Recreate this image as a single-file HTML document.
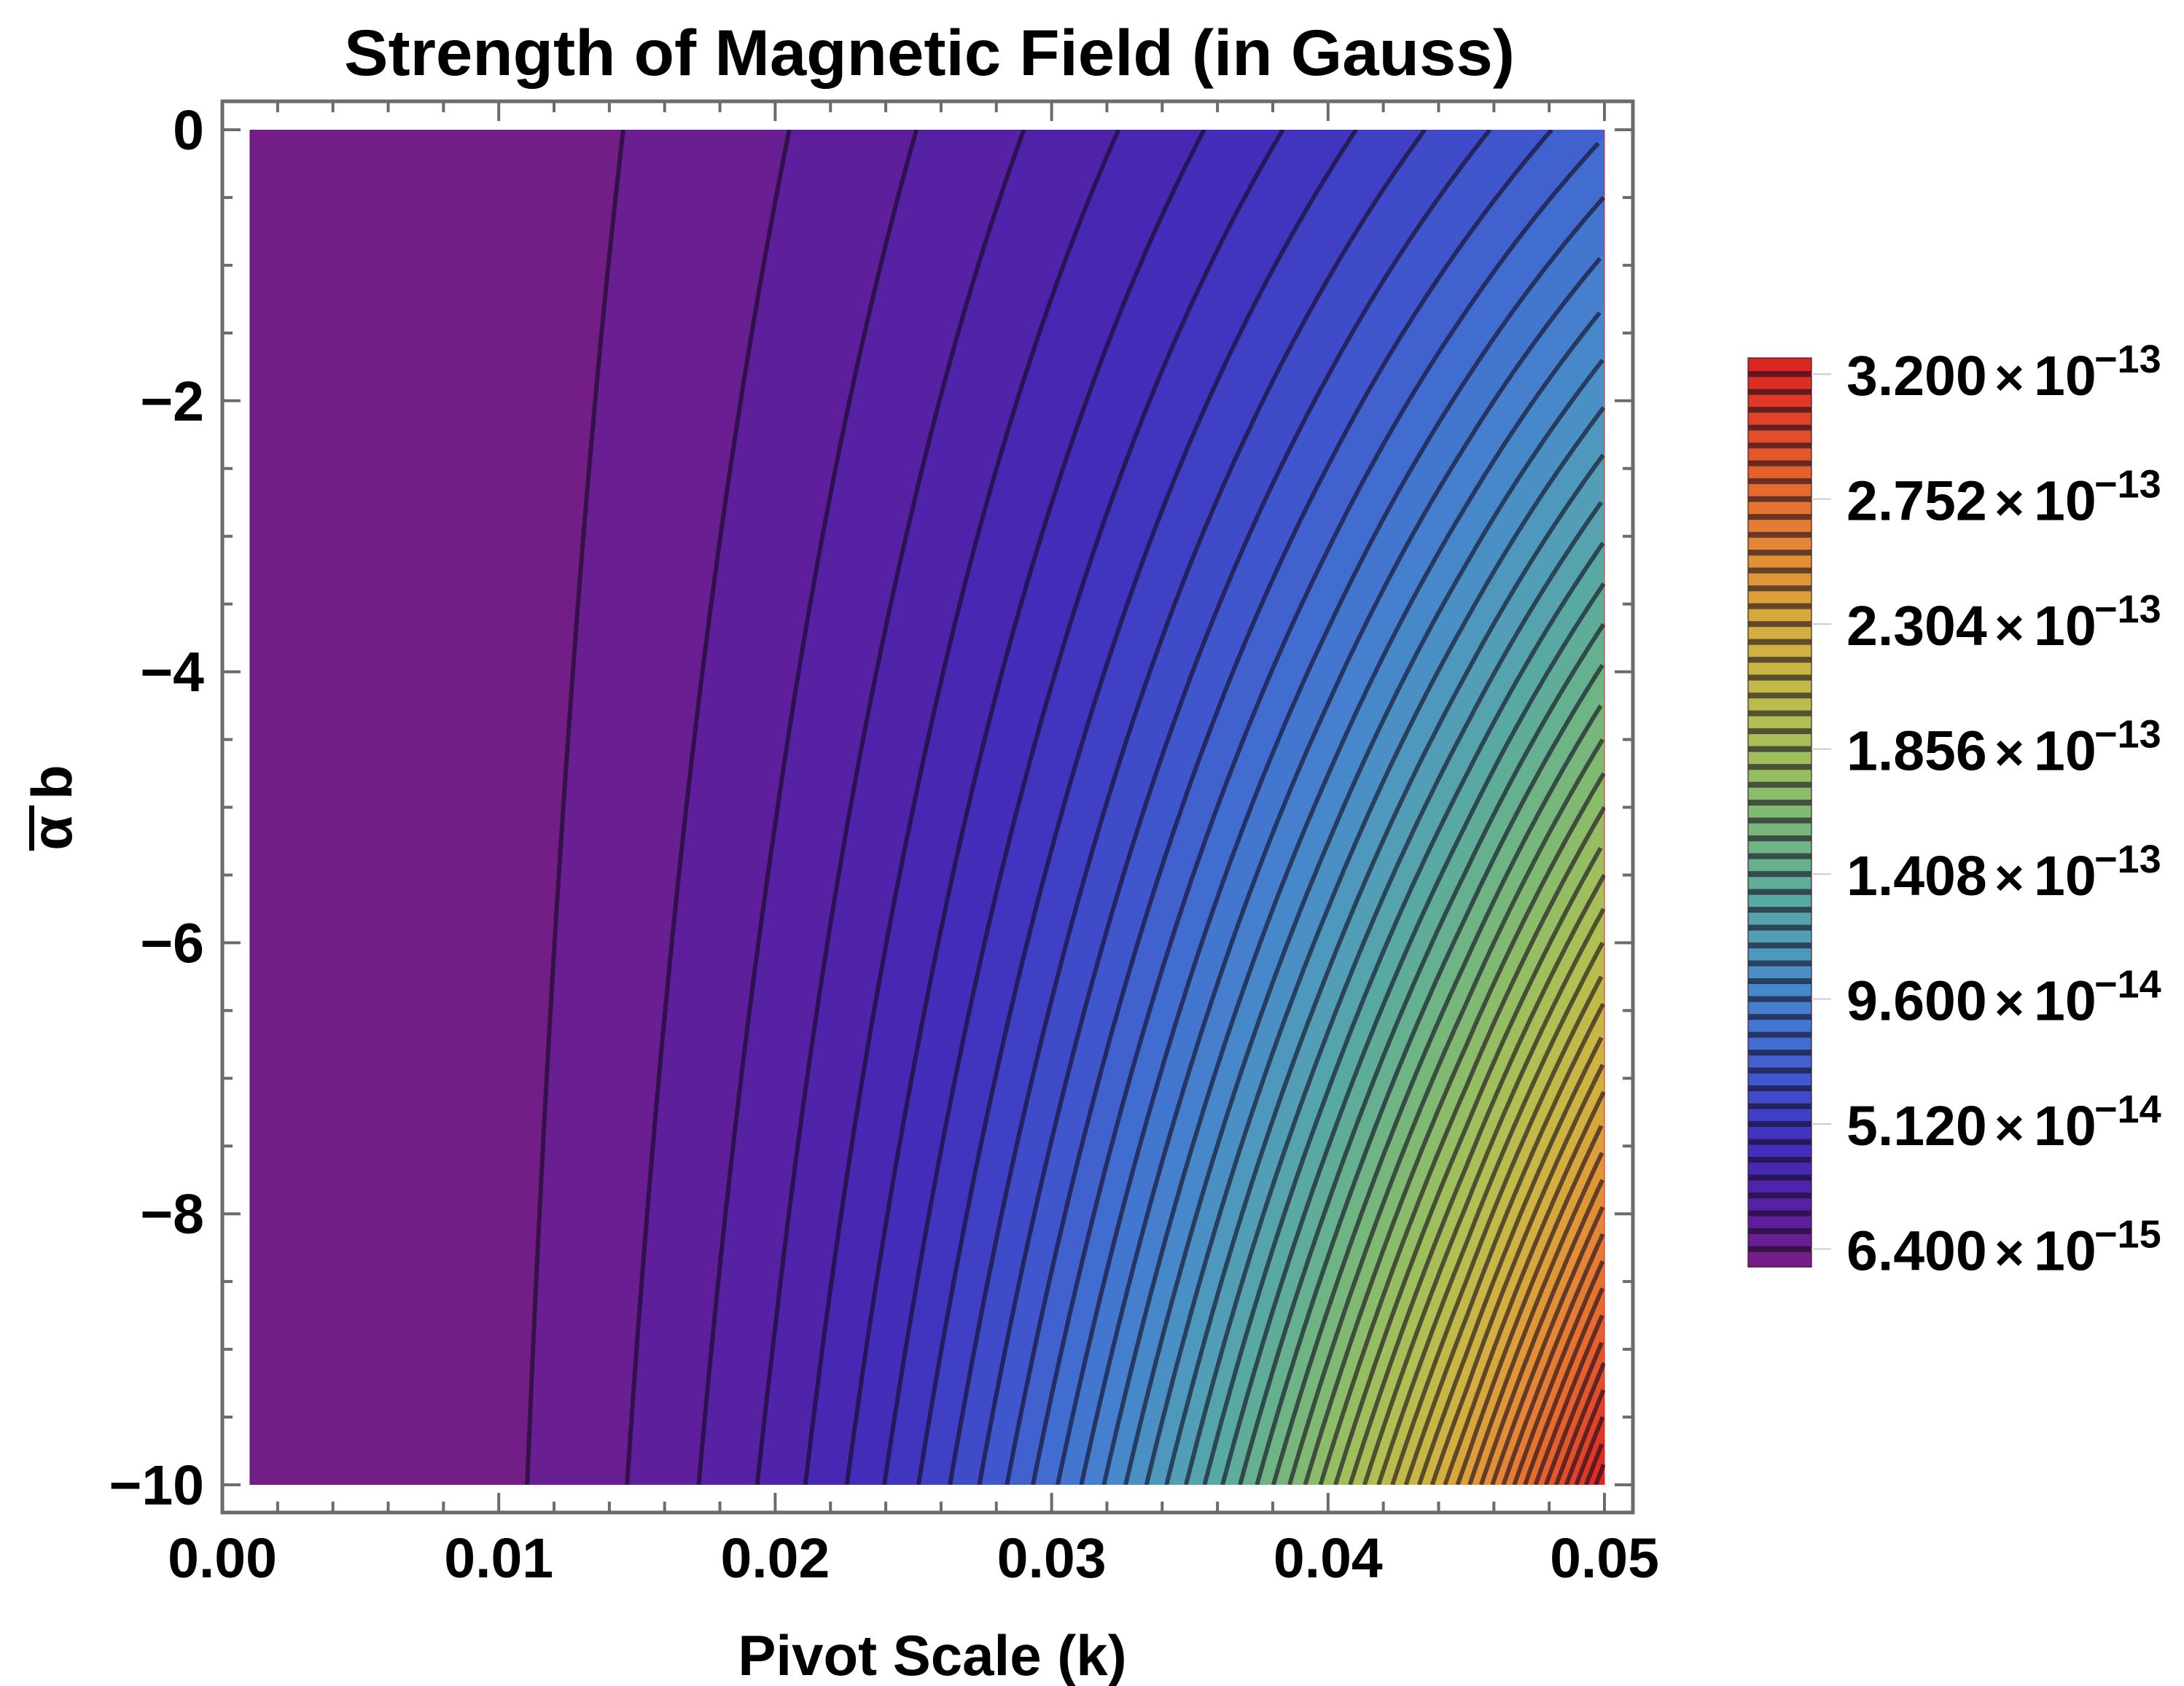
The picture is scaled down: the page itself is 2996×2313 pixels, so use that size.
<!DOCTYPE html>
<html>
<head>
<meta charset="utf-8">
<style>
html,body{margin:0;padding:0;background:#fff;}
svg{display:block;}
text{font-family:"Liberation Sans",Arial,sans-serif;font-weight:bold;fill:#000;}
</style>
</head>
<body>
<svg id="chart" width="2996" height="2313" viewBox="0 0 2996 2313" xmlns="http://www.w3.org/2000/svg">
  <defs>
    <clipPath id="plotClip"><rect x="342" y="178" width="1860" height="1859"/></clipPath>
  </defs>
  <text x="1275" y="103" font-size="89" text-anchor="middle" textLength="1606" lengthAdjust="spacingAndGlyphs">Strength of Magnetic Field (in Gauss)</text>
  <g id="plot" clip-path="url(#plotClip)"></g>
  <g id="axes"></g>
  <g id="cbar"></g>
  <text x="1279" y="2298" font-size="78" text-anchor="middle">Pivot Scale (k)</text>
  <g>
    <text transform="translate(98,1108) rotate(-90)" font-size="78" text-anchor="middle">α b</text>
    <rect x="40" y="1105" width="7" height="62" fill="#000"/>
  </g>
</svg>
<script>
// ---- data (field in units of 1e-15 Gauss) ----
const rowAlphaB = [0, -5, -10];
const kGrid = [0.001, 0.0125, 0.02, 0.025, 0.03, 0.035, 0.04, 0.045, 0.05];
const fieldTop = [0.0305, 4.755, 12.17, 19.03, 27.40, 37.29, 48.70, 61.63, 76.10];
const fieldMid = [0.0256, 6.59, 19.0, 32.0, 49.5, 71.8, 99.0, 132.2, 172.8];
const fieldBottom = [0.0205, 8.64, 27.8, 50.2, 81.6, 122.9, 176.0, 241.3, 325.8];
const levelStep = 6.4;      // contour spacing (1e-15 G)
const levelCount = 50;
const fieldMin = 0;
const fieldMax = 325.8;
const xTicks = [0, 0.01, 0.02, 0.03, 0.04, 0.05];
const xTickLabels = ["0.00", "0.01", "0.02", "0.03", "0.04", "0.05"];
const yTicks = [0, -2, -4, -6, -8, -10];
const yTickLabels = ["0", "\u22122", "\u22124", "\u22126", "\u22128", "\u221210"];
const cbarTickValues = [320, 275.2, 230.4, 185.6, 140.8, 96.0, 51.2, 6.4];
const cbarMantissas = ["3.200", "2.752", "2.304", "1.856", "1.408", "9.600", "5.120", "6.400"];
const cbarExponents = ["\u221213", "\u221213", "\u221213", "\u221213", "\u221213", "\u221214", "\u221214", "\u221215"];
const rampColors = ["#781c81","#5f1f9c","#4a25b0","#4036c0","#3f52cc","#4270d0","#4686cc","#4f9abc","#58a8a4","#68b28a","#80ba72","#9abe5e","#b2bf52","#c6b946","#d5ad3e","#df9a39","#e48435","#e56d2f","#e2552b","#dd3a26","#d92120"];

// ---- axis functions ----
const X0 = 305, XPER = 37920;
const Y0 = 178, YPER = 185.9;
function xPx(k){ return X0 + k * XPER; }
function yPx(a){ return Y0 - a * YPER; }
const CB_TOP = 491, CB_BOT = 1738, CB_L = 2398, CB_R = 2485;
function cbY(v){ return CB_BOT - (v - fieldMin) / (fieldMax - fieldMin) * (CB_BOT - CB_TOP); }

function hexToRgb(h){ return [parseInt(h.substr(1,2),16),parseInt(h.substr(3,2),16),parseInt(h.substr(5,2),16)]; }
function ramp(t){
  t = Math.max(0, Math.min(1, t));
  const n = rampColors.length - 1, p = t * n, i = Math.min(Math.floor(p), n - 1), f = p - i;
  const a = hexToRgb(rampColors[i]), b = hexToRgb(rampColors[i+1]);
  return "rgb(" + [0,1,2].map(j => Math.round(a[j] + (b[j]-a[j]) * f)).join(",") + ")";
}

const rows = [fieldTop, fieldMid, fieldBottom];
function rowAt(a){
  // quadratic (Lagrange) interpolation of ln B across the three measured rows
  const [a0, a1, a2] = rowAlphaB;
  const w0 = (a - a1) * (a - a2) / ((a0 - a1) * (a0 - a2));
  const w1 = (a - a0) * (a - a2) / ((a1 - a0) * (a1 - a2));
  const w2 = (a - a0) * (a - a1) / ((a2 - a0) * (a2 - a1));
  return kGrid.map((k, j) => w0 * Math.log(rows[0][j]) + w1 * Math.log(rows[1][j]) + w2 * Math.log(rows[2][j]));
}
function contourK(lnRow, level){
  const L = Math.log(level);
  if (L <= lnRow[0]) return kGrid[0];
  for (let j = 0; j < kGrid.length - 1; j++){
    if (L <= lnRow[j+1]){
      const f = (L - lnRow[j]) / (lnRow[j+1] - lnRow[j]);
      return Math.exp(Math.log(kGrid[j]) + f * (Math.log(kGrid[j+1]) - Math.log(kGrid[j])));
    }
  }
  return null;
}

const NS = "http://www.w3.org/2000/svg";
function mk(tag, attrs, parent){
  const e = document.createElementNS(NS, tag);
  for (const k in attrs) e.setAttribute(k, attrs[k]);
  parent.appendChild(e);
  return e;
}

// ---- contour bands & lines ----
const plot = document.getElementById("plot");
const kMin = kGrid[0], kMax = kGrid[kGrid.length - 1];
const samples = [];
for (let s = 0; s <= 200; s++) samples.push(0 - 10 * s / 200);
const rowCache = samples.map(a => rowAt(a));
function boundary(level){
  return samples.map((a, s) => {
    const k = contourK(rowCache[s], level);
    return k === null ? kMax : Math.max(kMin, k);
  });
}
const levels = [];
for (let m = 1; m <= levelCount; m++) levels.push(m * levelStep);
const bounds = [samples.map(() => kMin)].concat(levels.map(l => boundary(l))).concat([samples.map(() => kMax)]);
for (let m = 0; m < bounds.length - 1; m++){
  const left = bounds[m], right = bounds[m+1];
  const pts = [];
  samples.forEach((a, s) => pts.push(xPx(left[s]).toFixed(1) + "," + yPx(a).toFixed(1)));
  for (let s = samples.length - 1; s >= 0; s--) pts.push(xPx(right[s]).toFixed(1) + "," + yPx(samples[s]).toFixed(1));
  const mid = (m + 0.5) * levelStep;
  const poly = mk("polygon", {points: pts.join(" "), fill: ramp(mid / fieldMax), stroke: ramp(mid / fieldMax), "stroke-width": "1"}, plot);
  
  
}
levels.forEach((lv, i) => {
  const pts = [];
  samples.forEach((a, s) => {
    const k = contourK(rowCache[s], lv);
    if (k !== null) pts.push(xPx(k).toFixed(1) + "," + yPx(a).toFixed(1));
  });
  if (pts.length > 1){
    const pl = mk("polyline", {points: pts.join(" "), fill: "none", stroke: "rgba(20,10,30,0.62)", "stroke-width": "6"}, plot);
    
    
  }
});

// ---- axes frame & ticks ----
const axes = document.getElementById("axes");
const FL = 305, FR = 2240, FT = 139, FB = 2075, G = "#6b6b6b";
const frame = mk("rect", {x: FL, y: FT, width: FR - FL, height: FB - FT, fill: "none", stroke: G, "stroke-width": "5"}, axes);


for (let i = 0; i <= 25; i++){
  const k = i * 0.002, x = xPx(k), major = (i % 5 === 0), len = major ? 27 : 15;
  const tb = mk("line", {x1: x, y1: FB, x2: x, y2: FB - len, stroke: G, "stroke-width": "4"}, axes);
  
  
  const tt = mk("line", {x1: x, y1: FT, x2: x, y2: FT + len, stroke: G, "stroke-width": "4"}, axes);
  
  
}
for (let i = 0; i <= 20; i++){
  const a = -i * 0.5, y = yPx(a), major = (i % 4 === 0), len = major ? 25 : 14;
  const tl = mk("line", {x1: FL, y1: y, x2: FL + len, y2: y, stroke: G, "stroke-width": "4"}, axes);
  
  
  const tr = mk("line", {x1: FR, y1: y, x2: FR - len, y2: y, stroke: G, "stroke-width": "4"}, axes);
  
  
}
xTicks.forEach((k, i) => {
  const t = mk("text", {x: xPx(k), y: 2164, "font-size": "77", "text-anchor": "middle"}, axes);
  t.textContent = xTickLabels[i];
  
  
});
yTicks.forEach((a, i) => {
  const t = mk("text", {x: 280, y: yPx(a) + 27, "font-size": "77", "text-anchor": "end"}, axes);
  t.textContent = yTickLabels[i];
  
  
});

// ---- colorbar ----
const cbar = document.getElementById("cbar");
for (let m = 0; m <= levelCount; m++){
  const v0 = m * levelStep, v1 = Math.min((m + 1) * levelStep, fieldMax);
  const r = mk("rect", {x: CB_L, y: cbY(v1), width: CB_R - CB_L, height: cbY(v0) - cbY(v1) + 0.5, fill: ramp((m + 0.5) * levelStep / fieldMax)}, cbar);
  
  
}
levels.forEach(lv => {
  const s = mk("rect", {x: CB_L, y: cbY(lv) - 4, width: CB_R - CB_L, height: 8, fill: "rgba(20,10,30,0.6)"}, cbar);
  
  
});
const cbo = mk("rect", {x: CB_L, y: CB_TOP, width: CB_R - CB_L, height: CB_BOT - CB_TOP, fill: "none", stroke: "rgba(60,30,40,0.6)", "stroke-width": "2"}, cbar);


cbarTickValues.forEach((v, i) => {
  const y = cbY(v);
  const tl = mk("line", {x1: CB_R, y1: y, x2: 2512, y2: y, stroke: "#cccccc", "stroke-width": "2"}, cbar);
  
  
  const g = mk("g", {}, cbar);
  
  
  const t1 = mk("text", {x: 2533, y: y + 29, "font-size": "77"}, g);
  t1.textContent = cbarMantissas[i];
  const t2 = mk("text", {x: 2736, y: y + 29, "font-size": "70"}, g);
  t2.textContent = "\u00d7";
  const t3 = mk("text", {x: 2790, y: y + 29, "font-size": "77"}, g);
  t3.textContent = "10";
  const t4 = mk("text", {x: 2873, y: y - 2, "font-size": "54"}, g);
  t4.textContent = cbarExponents[i];
});
</script>
</body>
</html>
